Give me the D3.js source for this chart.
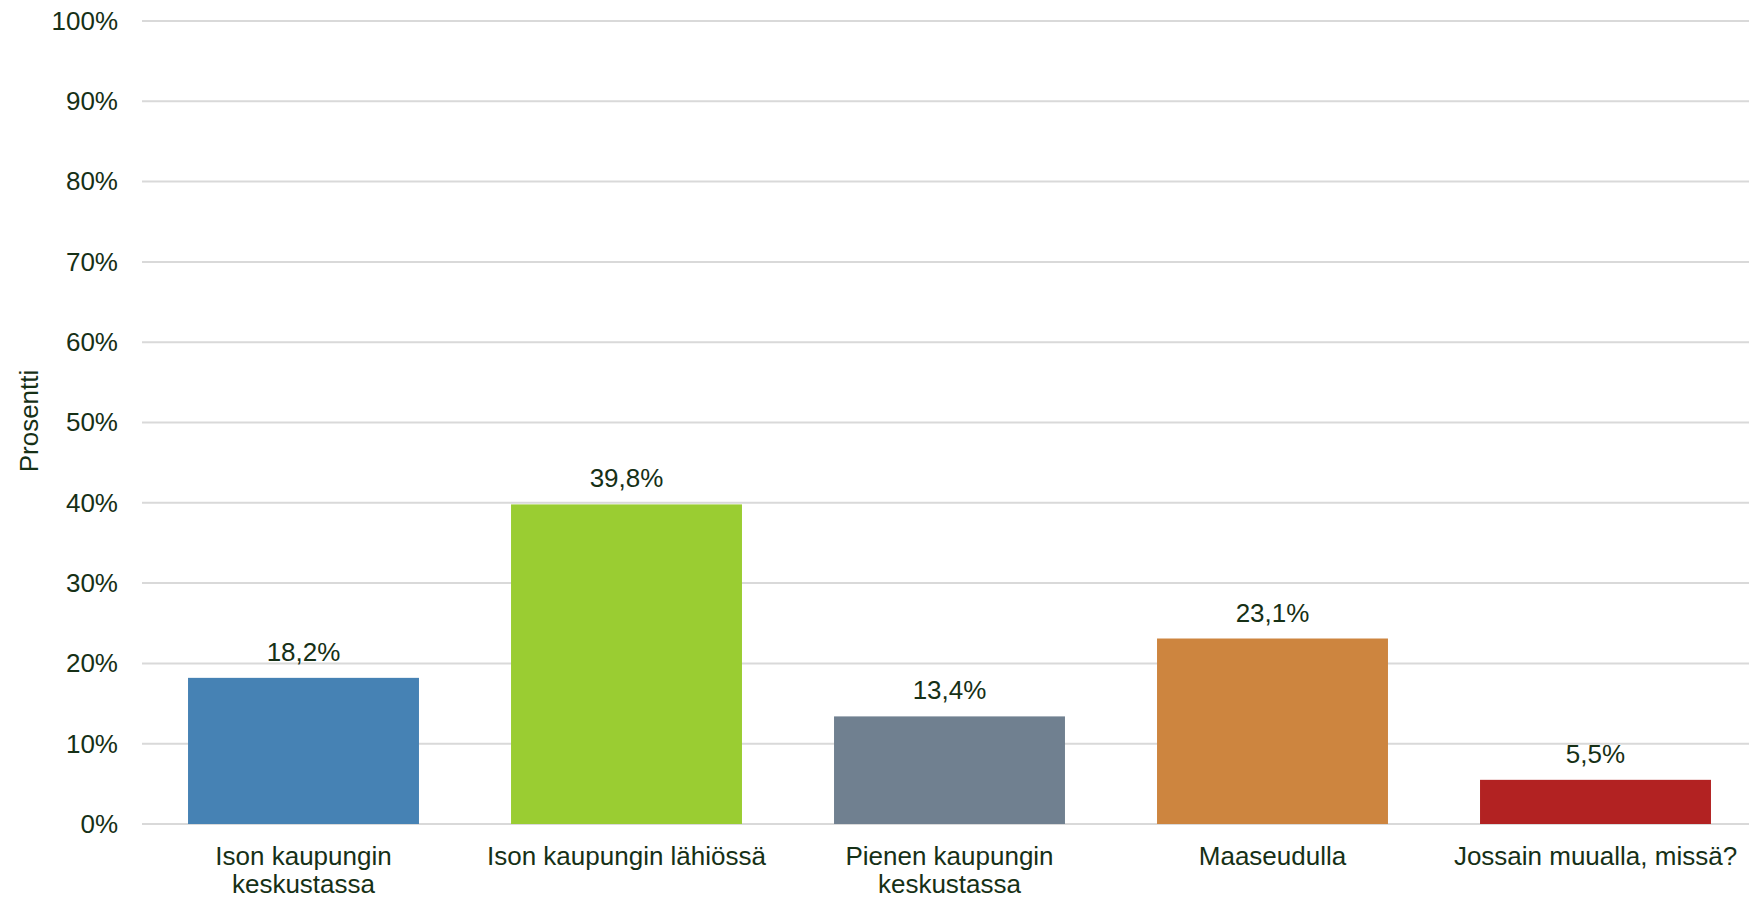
<!DOCTYPE html>
<html>
<head>
<meta charset="utf-8">
<script src="https://cdn.jsdelivr.net/npm/d3@7"></script>
<style>
  body { margin: 0; background: #fff; }
  text { font-family: "Liberation Sans", Arial, sans-serif; fill: #163016; }
</style>
</head>
<body>
<div id="chart"></div>
<script>
// Chart data
const categories = ["Ison kaupungin keskustassa", "Ison kaupungin lähiössä", "Pienen kaupungin keskustassa", "Maaseudulla", "Jossain muualla, missä?"];
const values = [18.2, 39.8, 13.4, 23.1, 5.5];
const valueLabels = ["18,2%", "39,8%", "13,4%", "23,1%", "5,5%"];
const barColors = ["steelblue", "yellowgreen", "slategray", "peru", "firebrick"];
const yTicks = [0, 10, 20, 30, 40, 50, 60, 70, 80, 90, 100];
const yTitle = "Prosentti";

var width = 1749, height = 898;

var svg = d3.select("#chart")
  .append("svg")
    .attr("width", width)
    .attr("height", height);

// Scales
var x = d3.scaleBand()
  .domain(categories)
  .range([142, 1757])
  .paddingInner(0.285)
  .paddingOuter(0.1425);

var y = d3.scaleLinear()
  .domain([0, 100])
  .range([824, 21]);

// Gridlines
svg.append("g")
  .selectAll("line")
  .data(yTicks)
  .enter()
  .append("line")
    .attr("x1", 142)
    .attr("x2", width)
    .attr("y1", function(d) { return y(d); })
    .attr("y2", function(d) { return y(d); })
    .attr("stroke", "#d9d9d9")
    .attr("stroke-width", 2);

// Y axis labels
var yAxis = svg.append("g")
  .attr("transform", "translate(118,0)")
  .call(d3.axisLeft(y).tickValues(yTicks).tickSize(0).tickPadding(0).tickFormat(function(d) { return d + "%"; }));
yAxis.select(".domain").remove();
yAxis.selectAll("text")
  .attr("font-size", 26)
  .attr("font-family", "Liberation Sans, Arial, sans-serif")
  .attr("fill", "#163016");

// Y axis title
svg.append("text")
  .attr("transform", "translate(38,421) rotate(-90)")
  .attr("text-anchor", "middle")
  .attr("font-size", 26)
  .text(yTitle);

// Bars
svg.selectAll(".bar")
  .data(values)
  .enter()
  .append("rect")
    .attr("class", "bar")
    .attr("x", function(d, i) { return x(categories[i]); })
    .attr("y", function(d) { return y(d); })
    .attr("width", x.bandwidth())
    .attr("height", function(d) { return y(0) - y(d); })
    .attr("fill", function(d, i) { return barColors[i]; });

// Value labels
svg.selectAll(".value")
  .data(values)
  .enter()
  .append("text")
    .attr("class", "value")
    .attr("x", function(d, i) { return x(categories[i]) + x.bandwidth() / 2; })
    .attr("y", function(d) { return y(d) - 17; })
    .attr("text-anchor", "middle")
    .attr("font-size", 26)
    .text(function(d, i) { return valueLabels[i]; });

// Category labels, wrapped to the band step
var catLabels = svg.selectAll(".cat")
  .data(categories)
  .enter()
  .append("text")
    .attr("class", "cat")
    .attr("text-anchor", "middle")
    .attr("font-size", 26)
    .attr("x", function(d) { return x(d) + x.bandwidth() / 2; })
    .attr("y", 865);

catLabels.each(function(d) {
  var text = d3.select(this);
  var words = d.split(" ");
  var maxW = x.step() - 4;
  var line = [];
  var cx = text.attr("x");
  var tspan = text.append("tspan").attr("x", cx).attr("dy", 0);
  words.forEach(function(w) {
    line.push(w);
    tspan.text(line.join(" "));
    if (tspan.node().getComputedTextLength() > maxW && line.length > 1) {
      line.pop();
      tspan.text(line.join(" "));
      line = [w];
      tspan = text.append("tspan").attr("x", cx).attr("dy", 28).text(w);
    }
  });
});
</script>
</body>
</html>
